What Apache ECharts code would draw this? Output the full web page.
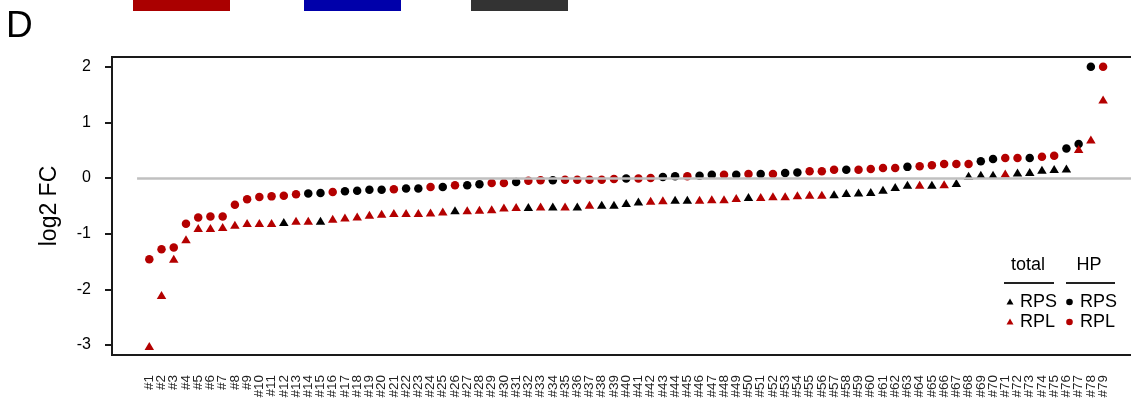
<!DOCTYPE html>
<html>
<head>
<meta charset="utf-8">
<script src="https://cdn.jsdelivr.net/npm/echarts@6/dist/echarts.min.js"></script>
<style>
  html, body { margin: 0; padding: 0; background: #fff; }
  #main { width: 1131px; height: 405px; }
</style>
</head>
<body>
<div id="main"></div>
<script>
// categories (#1 .. #79)
const xLabels = Array.from({ length: 79 }, (_, i) => '#' + (i + 1));
const yTicks = [-3, -2, -1, 0, 1, 2];

// HP (circles), sorted log2 FC; kind: S = RPS (black), L = RPL (red)
const hpVals = [
  -1.46, -1.28, -1.25, -0.82, -0.71, -0.69, -0.69, -0.48, -0.38, -0.34,
  -0.33, -0.32, -0.29, -0.28, -0.27, -0.25, -0.24, -0.23, -0.21, -0.21,
  -0.20, -0.19, -0.19, -0.16, -0.16, -0.13, -0.13, -0.11, -0.09, -0.09,
  -0.07, -0.05, -0.04, -0.04, -0.03, -0.03, -0.03, -0.03, -0.02, -0.01,
  -0.01, 0.00, 0.02, 0.03, 0.03, 0.04, 0.06, 0.06, 0.06, 0.07,
  0.07, 0.07, 0.09, 0.10, 0.12, 0.12, 0.15, 0.15, 0.15, 0.16,
  0.18, 0.18, 0.20, 0.21, 0.23, 0.25, 0.25, 0.25, 0.30, 0.34,
  0.36, 0.36, 0.36, 0.38, 0.40, 0.53, 0.61, 2.00, 2.00
];
const hpKind = (
  'LLLLLLLLLL' + 'LLLSSLSSSS' + 'LSSLSLSSLL' + 'SLLSLLLLLS' +
  'LLSSLSSLSL' + 'SLSSLLLSLL' + 'LLSLLLLLSS' + 'LLSLLSSSL'
).split('');

// total (triangles)
const totalVals = [
  -3.02, -2.10, -1.45, -1.10, -0.90, -0.90, -0.88, -0.84, -0.81, -0.81,
  -0.81, -0.79, -0.77, -0.77, -0.77, -0.73, -0.71, -0.69, -0.66, -0.64,
  -0.63, -0.63, -0.63, -0.62, -0.60, -0.58, -0.58, -0.57, -0.56, -0.53,
  -0.52, -0.52, -0.51, -0.51, -0.51, -0.51, -0.48, -0.48, -0.48, -0.45,
  -0.42, -0.41, -0.40, -0.39, -0.39, -0.39, -0.38, -0.38, -0.36, -0.34,
  -0.34, -0.33, -0.33, -0.31, -0.30, -0.30, -0.29, -0.27, -0.26, -0.25,
  -0.21, -0.16, -0.12, -0.12, -0.12, -0.11, -0.09, 0.04, 0.06, 0.06,
  0.08, 0.10, 0.11, 0.15, 0.16, 0.17, 0.52, 0.69, 1.41
];
const totalKind = (
  'LLLLLLLLLL' + 'LSLLSLLLLL' + 'LLLLLSLLLL' + 'LSLSLSLSSS' +
  'SLLSSLLLLS' + 'LLLLLLSSSS' + 'SSSLSLSSSS' + 'LSSSSSLLL'
).split('');

const RED = '#b40000';
const BLACK = '#000';
const FONT = '"Liberation Sans", Arial, sans-serif';

function pick(vals, kinds, k) {
  const out = [];
  vals.forEach((v, i) => { if (kinds[i] === k) out.push([i + 1, v]); });
  return out;
}

// label positions: 1..79, plus a blank one at each end so that
// the min/max label hiding never eats #1 or #79
const xLabelValues = [-2].concat(xLabels.map((_, i) => i + 1), [82]);

const chart = echarts.init(document.getElementById('main'));

// little legend drawn at the lower right
function legendGraphics() {
  const g = [];
  const txt = (x, y, s, align) => ({
    type: 'text', x: x, y: y,
    style: { text: s, font: '18px ' + FONT, fill: '#000', align: align, verticalAlign: 'middle' }
  });
  g.push(txt(1028, 265, 'total', 'center'));
  g.push(txt(1089, 265, 'HP', 'center'));
  g.push({ type: 'line', shape: { x1: 1004, y1: 283, x2: 1054, y2: 283 }, style: { stroke: '#222', lineWidth: 2 } });
  g.push({ type: 'line', shape: { x1: 1066, y1: 283, x2: 1115, y2: 283 }, style: { stroke: '#222', lineWidth: 2 } });
  const rows = [[302, BLACK, 'RPS'], [322, RED, 'RPL']];
  rows.forEach(([y, c, name]) => {
    g.push({ type: 'polygon', shape: { points: [[1010, y - 3.5], [1013.5, y + 2.5], [1006.5, y + 2.5]] }, style: { fill: c } });
    g.push(txt(1020, y, name, 'left'));
    g.push({ type: 'circle', shape: { cx: 1069.5, cy: y, r: 3.3 }, style: { fill: c } });
    g.push(txt(1080, y, name, 'left'));
  });
  return g;
}

const option = {
  animation: false,
  backgroundColor: '#fff',
  grid: {
    left: 112, top: 57, width: 1040, height: 298,
    outerBoundsMode: 'none',
    show: true, borderColor: '#1a1a1a', borderWidth: 2, backgroundColor: 'transparent'
  },
  xAxis: {
    type: 'value', min: -2.05, max: 83,
    axisLine: { show: false, onZero: false },
    axisTick: { show: false },
    splitLine: { show: false },
    axisLabel: {
      customValues: xLabelValues,
      formatter: v => xLabels[v - 1] || '',
      hideOverlap: false,
      rotate: 90, margin: 20,
      fontSize: 13.5, fontFamily: FONT, color: '#222'
    }
  },
  yAxis: {
    type: 'value', min: -3.18, max: 2.174,
    name: 'log2 FC', nameLocation: 'middle', nameRotate: 90, nameGap: 51,
    nameTextStyle: { fontSize: 23, fontFamily: FONT, color: '#000' },
    axisLine: { show: true, onZero: false, lineStyle: { color: '#1a1a1a', width: 2 } },
    splitLine: { show: false },
    axisTick: { show: true, inside: false, customValues: yTicks, length: 7, lineStyle: { color: '#1a1a1a', width: 2 } },
    axisLabel: { customValues: yTicks, showMinLabel: true, showMaxLabel: true, margin: 21, fontSize: 16, fontFamily: FONT, color: '#000' }
  },
  graphic: [
    { type: 'rect', shape: { x: 133, y: 0, width: 97, height: 11 }, style: { fill: '#aa0000' } },
    { type: 'rect', shape: { x: 304, y: 0, width: 97, height: 11 }, style: { fill: '#0000aa' } },
    { type: 'rect', shape: { x: 471, y: 0, width: 97, height: 11 }, style: { fill: '#333333' } },
    { type: 'text', x: 6, y: 27, style: { text: 'D', font: '37px ' + FONT, fill: '#000', verticalAlign: 'middle' } }
  ].concat(legendGraphics()),
  series: [
    {
      name: 'zero', type: 'line', data: [], z: 1, silent: true,
      markLine: {
        silent: true, symbol: 'none', label: { show: false },
        lineStyle: { color: '#c0c0c0', width: 2.5, type: 'solid' },
        data: [[{ coord: [0, 0] }, { coord: [83, 0] }]]
      }
    },
    { name: 'HP RPS', type: 'scatter', z: 3, symbol: 'circle', symbolSize: 8.5, itemStyle: { color: BLACK, opacity: 1 }, data: pick(hpVals, hpKind, 'S') },
    { name: 'HP RPL', type: 'scatter', z: 3, symbol: 'circle', symbolSize: 8.5, itemStyle: { color: RED, opacity: 1 }, data: pick(hpVals, hpKind, 'L') },
    { name: 'total RPS', type: 'scatter', z: 4, symbol: 'triangle', symbolSize: [9.5, 8], itemStyle: { color: BLACK, opacity: 1 }, data: pick(totalVals, totalKind, 'S') },
    { name: 'total RPL', type: 'scatter', z: 4, symbol: 'triangle', symbolSize: [9.5, 8], itemStyle: { color: RED, opacity: 1 }, data: pick(totalVals, totalKind, 'L') }
  ]
};

chart.setOption(option);
</script>
</body>
</html>
